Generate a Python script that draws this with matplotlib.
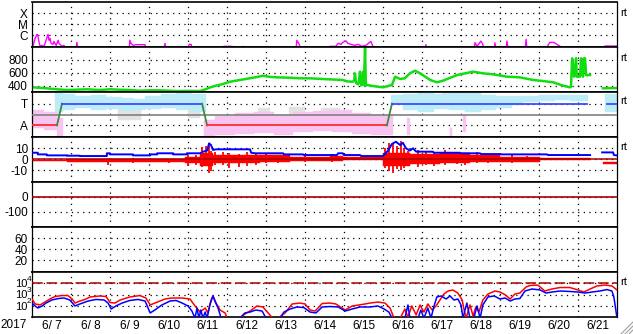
import numpy as np
import matplotlib.pyplot as plt
from matplotlib.lines import Line2D
from matplotlib.transforms import offset_copy

plt.rcParams['font.family'] = ['Liberation Sans', 'DejaVu Sans']

nan = np.nan

# time is in days since 2017-06-07 00:00 UT
day_labels = ['6/ 7', '6/ 8', '6/ 9', '6/10', '6/11', '6/12', '6/13', '6/14',
              '6/15', '6/16', '6/17', '6/18', '6/19', '6/20', '6/21']

# x-ray flux, log10(W/m2)
xray_t = [0.00, 0.03, 0.08, 0.13, 0.15, 0.18, 0.21, 0.26, 0.31, 0.36, 0.41, 0.44, 0.46, 0.49, 0.54, 0.56,
          0.62, 0.67, 0.69, 0.72, 0.77, 0.82, 0.87, 1.13, 1.15, 1.18, 2.49, 2.51, 2.54, 2.59, 2.67, 2.90,
          2.92, 3.38, 3.41, 3.44, 4.00, 4.03, 4.08, 4.10, 4.90, 4.92, 5.13, 5.15, 5.38, 5.41, 5.44, 6.77,
          6.79, 6.85, 6.87, 6.90, 7.62, 7.64, 7.79, 7.85, 7.92, 7.97, 8.05, 8.10, 8.18, 8.28, 8.36, 8.46,
          8.56, 8.69, 8.74, 8.77, 10.08, 10.10, 10.13, 11.33, 11.36, 11.41, 11.51, 11.56, 11.59, 11.85,
          11.87, 11.90, 12.15, 12.18, 12.21, 12.64, 12.67, 12.69, 13.21, 13.23, 13.28, 13.38, 13.46,
          13.54, 13.59, 14.67, 14.69, 15.00]
xray_v = [-6.9, -6.9, -6.27, -5.91, -6.0, -6.64, -7.0, -6.91, -7.0, -6.45, -5.91, -6.45, -6.27, -6.73,
          -6.82, -6.55, -6.91, -6.45, -6.73, -6.82, -7.0, -6.91, -7.3, -7.3, -6.64, -7.3, -7.3, -6.45,
          -6.73, -6.91, -6.85, -6.85, -7.3, -7.3, -6.73, -7.3, -7.3, -6.82, -6.82, -7.3, -7.3, -7.0,
          -7.0, -7.3, -7.3, -7.0, -7.3, -7.3, -6.45, -6.82, -7.0, -7.3, -7.3, -7.0, -7.0, -6.73, -6.82,
          -6.64, -6.5, -6.73, -6.82, -6.91, -6.82, -7.0, -6.91, -6.55, -7.0, -7.3, -7.3, -6.85, -7.3,
          -7.3, -6.66, -7.0, -6.52, -6.82, -7.3, -7.3, -6.68, -7.3, -7.3, -6.52, -7.3, -7.3, -6.36,
          -7.3, -7.3, -6.91, -6.64, -6.64, -6.82, -7.0, -7.3, -7.3, -6.97, -6.97]

# solar wind speed, km/s
wind_t = [0.03, 0.21, 0.38, 0.64, 0.90, 1.23, 1.41, 1.74, 2.00, 2.26, 2.51, 2.77, 3.03, 3.28, 3.72,
          4.05, 4.31, 4.44, 4.56, 4.69, 4.87, 5.08, 5.33, 5.67, 5.92, 6.10, 6.28, 6.62, 6.87, 7.13,
          7.46, 7.82, 7.97, 8.08, 8.21, 8.26, 8.28, 8.31, 8.36, 8.38, 8.41, 8.44, 8.46, 8.49, 8.51,
          8.54, 8.56, 8.59, 8.74, 9.00, 9.23, 9.31, 9.44, 9.56, 9.69, 9.82, 9.95, 10.21, 10.38, 10.54,
          10.90, 11.31, 11.56, 11.82, 12.18, 12.51, 12.85, 13.10, 13.36, 13.62, 13.79, 13.82, 13.85,
          13.87, 13.90, 13.92, 13.95, 13.97, 14.05, 14.08, 14.10, 14.13, 14.15, 14.18, 14.21, 14.31,
          14.45, 14.64, 15.00]
wind_v = [373, 365, 357, 342, 331, 338, 342, 331, 342, 335, 331, 320, 326, 326, 315, 318, 315, 340,
          370, 395, 420, 460, 487, 522, 553, 535, 528, 522, 513, 513, 502, 491, 487, 465, 460, 470,
          591, 440, 420, 460, 616, 400, 430, 616, 410, 1000, 400, 409, 393, 373, 409, 538, 502, 513,
          591, 631, 591, 487, 451, 476, 564, 616, 591, 575, 538, 528, 487, 471, 451, 398, 373, 380,
          824, 700, 538, 642, 824, 538, 538, 824, 600, 538, 824, 824, 560, 564, nan, 357, 362]

# IMF sector (T = +1, A = -1)
sector_t = [0.0, 0.64, 0.77, 4.36, 4.49, 9.10, 9.23, 14.23, nan, 14.74, 15.0]
sector_v = [-1, -1, 1, 1, -1, -1, 1, 1, nan, 1, 1]

# spread of the direction data, per time segment
blue_edges = [0.60, 0.70, 0.80, 1.10, 1.50, 1.90, 2.30, 2.60, 2.90, 3.30, 3.70, 4.10, 4.45, 9.20,
              9.50, 9.90, 10.30, 10.70, 11.10, 11.50, 11.90, 12.30, 12.60, 13.00, 13.40, 13.80,
              14.25, 14.70, 15.00]
blue_hi = [1.96, 1.96, 1.87, 1.69, 1.78, 1.59, 1.50, 1.41, 1.69, 1.87, 1.96, 1.87, nan, 1.78, 1.87,
           1.96, 1.87, 1.96, 1.96, 1.78, 1.69, 1.69, 1.69, 1.78, 1.78, 1.78, nan, 1.87]
blue_lo = [0.00, 0.21, 0.40, 0.58, 0.40, 0.49, 0.30, 0.40, 0.49, 0.58, 0.40, 0.21, nan, 1.04, 0.40,
           0.21, 0.49, 0.40, 0.21, 0.40, 0.58, 0.86, 1.13, 1.23, 1.32, 1.23, nan, 0.21]

pink_edges = [0.00, 0.30, 0.65, 0.80, 4.40, 4.70, 5.20, 5.70, 6.20, 6.70, 7.20, 7.70, 8.20, 8.70,
              9.25, 9.62, 9.68, 10.73, 10.77, 11.05, 11.12, 15.0]
pink_hi = [0.40, 0.21, -0.34, nan, -0.53, -0.15, 0.10, 0.20, 0.00, 0.20, 0.30, 0.40, 0.10, 0.00,
           nan, -0.34, nan, -1.26, nan, -0.06, nan]
pink_lo = [-1.26, -1.45, -2.0, nan, -2.05, -1.90, -1.80, -1.70, -1.90, -1.60, -1.50, -1.60, -1.80,
           -1.90, nan, -1.90, nan, -2.09, nan, -1.63, nan]

gray_edges = [2.20, 2.80, 4.00, 4.30, 5.80, 6.10, 6.60, 7.00, 7.40, 7.90, 10.50, 11.50, 12.0]
gray_hi = [0.67, nan, 0.90, nan, 0.58, nan, 0.67, nan, 0.58, nan, 2.05, nan]
gray_lo = [-0.53, nan, -0.30, nan, -0.16, nan, -0.25, nan, -0.71, nan, 1.59, nan]

# IMF Bt, nT
bt_t = [0.03, 0.15, 0.15, 0.38, 0.38, 0.90, 0.90, 1.23, 1.23, 1.92, 1.92, 2.00, 2.00, 2.59, 2.59,
        3.03, 3.03, 3.21, 3.21, 3.62, 3.62, 3.97, 3.97, 4.31, 4.38, 4.49, 4.54, 4.59, 4.64, 4.72,
        5.59, 5.62, 5.72, 6.44, 6.46, 6.95, 6.97, 7.82, 7.85, 7.97, 8.00, 8.41, 8.44, 9.00, 9.13,
        9.23, 9.33, 9.44, 9.51, 9.59, 9.69, 9.77, 9.85, 10.28, 10.31, 10.97, 11.00, 11.49, 11.51,
        12.00, 12.03, 13.21, 13.23, 14.31, 14.45, 14.62, 14.90, 14.92, 15.00]
bt_v = [6.0, 6.0, 4.5, 4.5, 3.6, 3.6, 3.3, 3.3, 3.0, 3.0, 5.5, 5.5, 4.5, 4.5, 3.6, 3.6, 4.5, 4.5,
        5.5, 5.5, 4.5, 4.5, 5.5, 5.5, 6.9, 8.0, 14.5, 13.0, 8.5, 9.1, 9.1, 6.0, 5.5, 5.5, 4.5, 4.5,
        3.9, 3.9, 5.5, 5.5, 3.9, 3.9, 3.0, 3.0, 8.0, 14.0, 16.0, 13.0, 15.0, 10.0, 8.0, 10.0, 7.0,
        6.9, 6.0, 6.0, 5.5, 5.5, 4.8, 4.8, 4.5, 4.5, 3.9, 3.9, nan, 6.3, 6.3, 3.9, 3.5]

# IMF Bz range, nT
bz_edges = [0.00, 0.90, 1.74, 3.03, 3.92, 4.31, 4.64, 5.21, 5.85, 6.62, 7.64, 7.97, 9.00, 9.69,
            10.46, 11.23, 12.00, 13.03, 14.31, 14.64, 15.0]
bz_lo = [-1.8, -2.0, -2.5, -2.5, -3.5, -6.0, -3.5, -3.5, -2.5, -1.8, -1.5, -1.0, -6.0, -4.0, -3.0,
         -2.5, -2.0, -1.0, nan, -4.5]
bz_hi = [-0.2, 0.5, 0.5, 0.0, 2.0, 6.0, 4.0, 4.0, 3.5, 2.5, 3.0, 2.5, 6.0, 5.0, 5.5, 4.0, 2.5, 1.0,
         nan, -2.5]
spk_t = [1.95, 2.60, 3.50, 4.00, 4.20, 4.35, 4.45, 4.55, 4.60, 4.70, 4.90, 5.05, 5.30, 5.50, 5.75,
         6.00, 6.30, 7.00, 7.70, 9.05, 9.15, 9.25, 9.35, 9.45, 9.55, 9.65, 9.90, 10.10, 10.30, 10.60,
         10.90, 11.10, 11.40, 11.70, 12.30, 12.70]
spk_lo = [-5.2, -3.5, -3.4, -6.0, -5.0, -6.7, -4.0, -12.5, -11.0, -5.0, -5.2, -8.0, -6.7, -6.0, -5.0,
          -3.5, -3.0, -2.5, -2.0, -8.0, -11.0, -12.0, -9.0, -10.0, -8.0, -6.0, -6.7, -5.0, -6.0, -5.0,
          -4.0, -5.0, -3.6, -3.0, -3.0, -2.0]
spk_hi = [0.0, 0.8, 0.5, 3.9, 4.0, 11.5, 12.0, 14.5, 8.0, 7.0, 7.0, 6.0, 5.0, 7.0, 6.0, 5.5, 4.0,
          4.0, 5.0, 10.0, 14.5, 14.0, 12.0, 17.0, 10.0, 8.0, 8.5, 8.0, 7.0, 8.5, 7.0, 6.0, 7.0, 5.0,
          4.0, 3.0]

# electron flux, log10
e_red_t = [0.00, 0.08, 0.21, 0.33, 0.46, 0.59, 0.77, 0.92, 1.03, 1.10, 1.23, 1.36, 1.49, 1.74, 1.90,
           2.00, 2.13, 2.26, 2.51, 2.77, 2.92, 3.03, 3.15, 3.41, 3.59, 3.85, 4.05, 4.18, 4.31, 4.44,
           4.51, 4.59, 4.64, 4.72, 4.82, 4.95, 5.03, 5.33, 5.46, 5.59, 5.77, 5.92, 6.10, 6.23, 6.49,
           6.67, 6.87, 7.00, 7.13, 7.26, 7.44, 7.64, 7.79, 8.03, 8.21, 8.46, 8.67, 8.87, 9.05, 9.18,
           9.26, 9.31, 9.44, 9.56, 9.64, 9.74, 9.85, 9.95, 10.05, 10.15, 10.26, 10.36, 10.46, 10.56,
           10.67, 10.79, 10.92, 11.03, 11.08, 11.13, 11.23, 11.31, 11.38, 11.46, 11.56, 11.69, 11.87,
           12.00, 12.13, 12.26, 12.38, 12.51, 12.67, 12.77, 12.97, 13.15, 13.33, 13.54, 13.79, 14.00,
           14.15, 14.31, 14.49, 14.69, 14.87, 15.00]
e_red_v = [2.60, 2.16, 2.07, 2.33, 2.60, 2.82, 2.91, 2.91, 2.60, 2.24, 2.42, 2.56, 2.78, 2.87, 2.82,
           2.29, 2.24, 2.51, 2.78, 2.91, 2.69, 2.07, 2.24, 2.60, 2.69, 2.69, 2.60, 1.98, 1.44, 1.80,
           1.36, 2.51, 2.87, 2.24, 1.62, 1.36, 0.70, 0.90, 1.27, 1.53, 1.98, 1.89, 1.18, 0.70, 1.36,
           2.16, 2.24, 2.16, 1.62, 1.53, 2.20, 2.24, 2.16, 1.62, 1.98, 2.11, 2.24, 2.33, 2.24, 1.80,
           1.09, 0.70, 0.90, 1.71, 1.00, 1.98, 1.18, 2.07, 1.44, 2.16, 1.62, 1.98, 2.51, 3.04, 3.31,
           3.40, 3.13, 2.51, 1.62, 0.90, 2.07, 1.09, 1.89, 1.44, 2.51, 3.04, 3.31, 3.22, 2.98, 2.60,
           3.04, 3.13, 3.67, 3.80, 3.84, 3.31, 3.49, 3.62, 3.62, 3.40, 3.22, 3.49, 3.76, 3.84, 3.76,
           3.40]
e_blue_t = [0.00, 0.08, 0.15, 0.26, 0.36, 0.51, 0.67, 0.82, 0.97, 1.10, 1.23, 1.44, 1.64, 1.85, 1.95,
            2.03, 2.15, 2.31, 2.51, 2.72, 2.90, 3.03, 3.15, 3.33, 3.54, 3.69, 3.85, 4.00, 4.10, 4.18,
            4.23, 4.28, 4.33, 4.38, 4.44, 4.49, 4.56, 4.64, 4.69, 4.77, 4.85, 5.33, 5.46, 5.59, 5.74,
            5.90, 6.00, 6.36, 6.46, 6.62, 6.79, 6.97, 7.13, 7.28, 7.44, 7.64, 7.85, 8.03, 8.21, 8.41,
            8.67, 8.87, 9.03, 9.15, 9.23, 9.56, 9.64, 9.69, 9.90, 9.97, 10.05, 10.15, 10.23, 10.31,
            10.38, 10.49, 10.62, 10.72, 10.82, 10.92, 11.00, 11.05, 11.15, 11.23, 11.33, 11.41, 11.49,
            11.56, 11.69, 11.85, 12.00, 12.13, 12.26, 12.38, 12.51, 12.64, 12.82, 13.03, 13.18, 13.33,
            13.54, 13.79, 14.00, 14.18, 14.36, 14.56, 14.74, 14.87, 14.92, 14.97, 15.00]
e_blue_v = [2.24, 1.98, 1.80, 1.98, 2.24, 2.51, 2.64, 2.69, 2.51, 1.98, 2.16, 2.42, 2.56, 2.51, 2.24,
            1.71, 1.98, 2.24, 2.47, 2.56, 2.42, 1.36, 1.62, 2.07, 2.42, 2.47, 2.24, 1.98, 1.53, 0.90,
            1.80, 0.90, 1.62, 0.90, 1.44, 0.90, 2.07, 2.87, 2.42, 1.80, 0.90, 0.90, 1.36, 1.44, 1.62,
            1.53, 0.90, 0.90, 1.44, 1.71, 1.89, 1.84, 1.44, 1.36, 1.89, 1.93, 1.89, 1.53, 1.71, 1.89,
            1.89, 1.98, 1.71, 1.44, 0.90, 0.90, 2.07, 0.90, 0.90, 1.62, 0.90, 1.80, 0.90, 1.98, 2.78,
            2.87, 2.60, 2.87, 2.51, 2.60, 2.07, 0.90, 2.24, 0.90, 0.90, 1.98, 0.90, 2.07, 2.78, 2.87,
            2.60, 2.69, 2.42, 2.60, 2.64, 3.31, 3.49, 3.40, 3.13, 3.22, 3.31, 3.27, 3.22, 3.13, 3.22,
            3.31, 3.44, 3.31, 2.78, 1.62, 0.90]

W, H = 633, 334
fig = plt.figure(figsize=(W / 100, H / 100), dpi=100)
dots = (0, (1, 3.5))


def panel(i, ylim, ticks, labels, size=8.5):
    top = 2 + 45 * i
    ax = fig.add_axes([32 / W, 1 - (top + 45) / H, 585 / W, 45 / H])
    ax.set_xlim(0, 15)
    ax.set_ylim(*ylim)
    ax.set_xticks(range(1, 15))
    ax.set_yticks(ticks, labels)
    ax.tick_params(length=0, labelsize=size, pad=3, labelbottom=False)
    for s in ['top', 'bottom']:
        ax.spines[s].set_linewidth(1.2)
    for s in ['left', 'right']:
        ax.spines[s].set_linewidth(0.9)
    ax.grid(True, color='k', linestyle=dots, linewidth=0.9)
    ax.set_axisbelow(True)
    return ax


def band(ax, edges, lo, hi, color, z=2):
    e = np.array(edges)
    lo = np.array(lo)
    hi = np.array(hi)
    ax.bar(e[:-1], hi - lo, bottom=lo, width=np.diff(e), align='edge',
           color=color, edgecolor=color, linewidth=0.3, zorder=z)


# x-ray
ax1 = panel(0, (-7.06, -2.97), [-4, -5, -6], ['X', 'M', 'C'])
ax1.plot(xray_t, xray_v, color='#ff00ff', lw=1)

# wind speed
ax2 = panel(1, (300, 1000), [400, 600, 800], ['400', '600', '800'])
ax2.plot(wind_t, wind_v, color='#11dd11', lw=1.8)

# sector
ax3 = panel(2, (-2.07, 2.07), [1, -1], ['T', 'A'])
band(ax3, gray_edges, gray_lo, gray_hi, '#e2e2e2', z=1.5)
band(ax3, blue_edges, blue_lo, blue_hi, '#bcecf8')
band(ax3, pink_edges, pink_lo, pink_hi, '#f8c4f2')
ax3.axhline(0, color='#808080', lw=1.2, zorder=3)
for i in range(len(sector_t) - 1):
    v0, v1 = sector_v[i], sector_v[i + 1]
    if np.isnan(v0) or np.isnan(v1):
        continue
    if v0 == v1:
        c = '#3b4cff' if v0 > 0 else '#ff2a2a'
    else:
        c = '#3f8a3f'
    ax3.plot(sector_t[i:i + 2], [v0, v1], color=c, lw=1.3, zorder=4)

# IMF
ax4 = panel(3, (-20.6, 20.3), [10, 0, -10], ['10', '0', '-10'])
band(ax4, bz_edges, bz_lo, bz_hi, '#ff0000')
ax4.vlines(spk_t, spk_lo, spk_hi, color='#ff0000', lw=1.3, zorder=2)
ax4.axhline(0, color='#aa0000', lw=1.1, zorder=3)
ax4.plot(bt_t, bt_v, color='#0000ff', lw=1.4, zorder=4)

# Dst
ax5 = panel(4, (-202, 98), [0, -100], ['0', '-100'])
ax5.axhline(0, color='#aa0000', lw=1.2, zorder=3)

# Kp
ax6 = panel(5, (-2, 81), [60, 40, 20], ['60', '40', '20'])

# electrons
e_ticks = [1e4, 1e3, 1e2]
e_pow = ['4', '3', '2']
ax7 = panel(6, (10, 1e5), e_ticks, ['', '', ''])
ax7.set_yscale('log')
ax7.set_ylim(10, 1e5)
ax7.set_yticks(e_ticks, ['', '', ''])
ax7.yaxis.set_minor_locator(plt.NullLocator())
ytr = ax7.get_yaxis_transform()
base_tr = offset_copy(ytr, fig=fig, x=-5, y=-1, units='dots')
sup_tr = offset_copy(ytr, fig=fig, x=-5, y=4, units='dots')
for v, p in zip(e_ticks, e_pow):
    ax7.text(0, v, '10', transform=base_tr, ha='right', va='center', fontsize=8)
    ax7.text(0, v, p, transform=sup_tr, ha='left', va='center', fontsize=6)
ax7.axhline(1e4, color='#aa0000', lw=1.1, dashes=(7, 2.5), zorder=3)
ax7.plot(e_red_t, 10 ** np.array(e_red_v), color='#ff0000', lw=1.1, zorder=4)
ax7.plot(e_blue_t, 10 ** np.array(e_blue_v), color='#0000ff', lw=1.1, zorder=5)
ax7.set_xticks(np.arange(0.5, 15), day_labels, minor=True)
ax7.tick_params(which='minor', length=0, labelbottom=True, labelsize=8.5, pad=2)

fig.text(14 / W, 1 - 325 / H, '2017', ha='center', va='center', fontsize=8.5)
for py in [13, 58, 101, 147, 282]:
    fig.text(620 / W, 1 - py / H, 'rt', ha='left', va='center', fontsize=8)

# resize grip in the corner
for k in [0, 4, 8]:
    fig.add_artist(Line2D([(621 + k) / W, 633 / W], [0, (12 - k) / H], color='#a0a0a0', lw=0.8))

fig.savefig('out.png', dpi=100)
